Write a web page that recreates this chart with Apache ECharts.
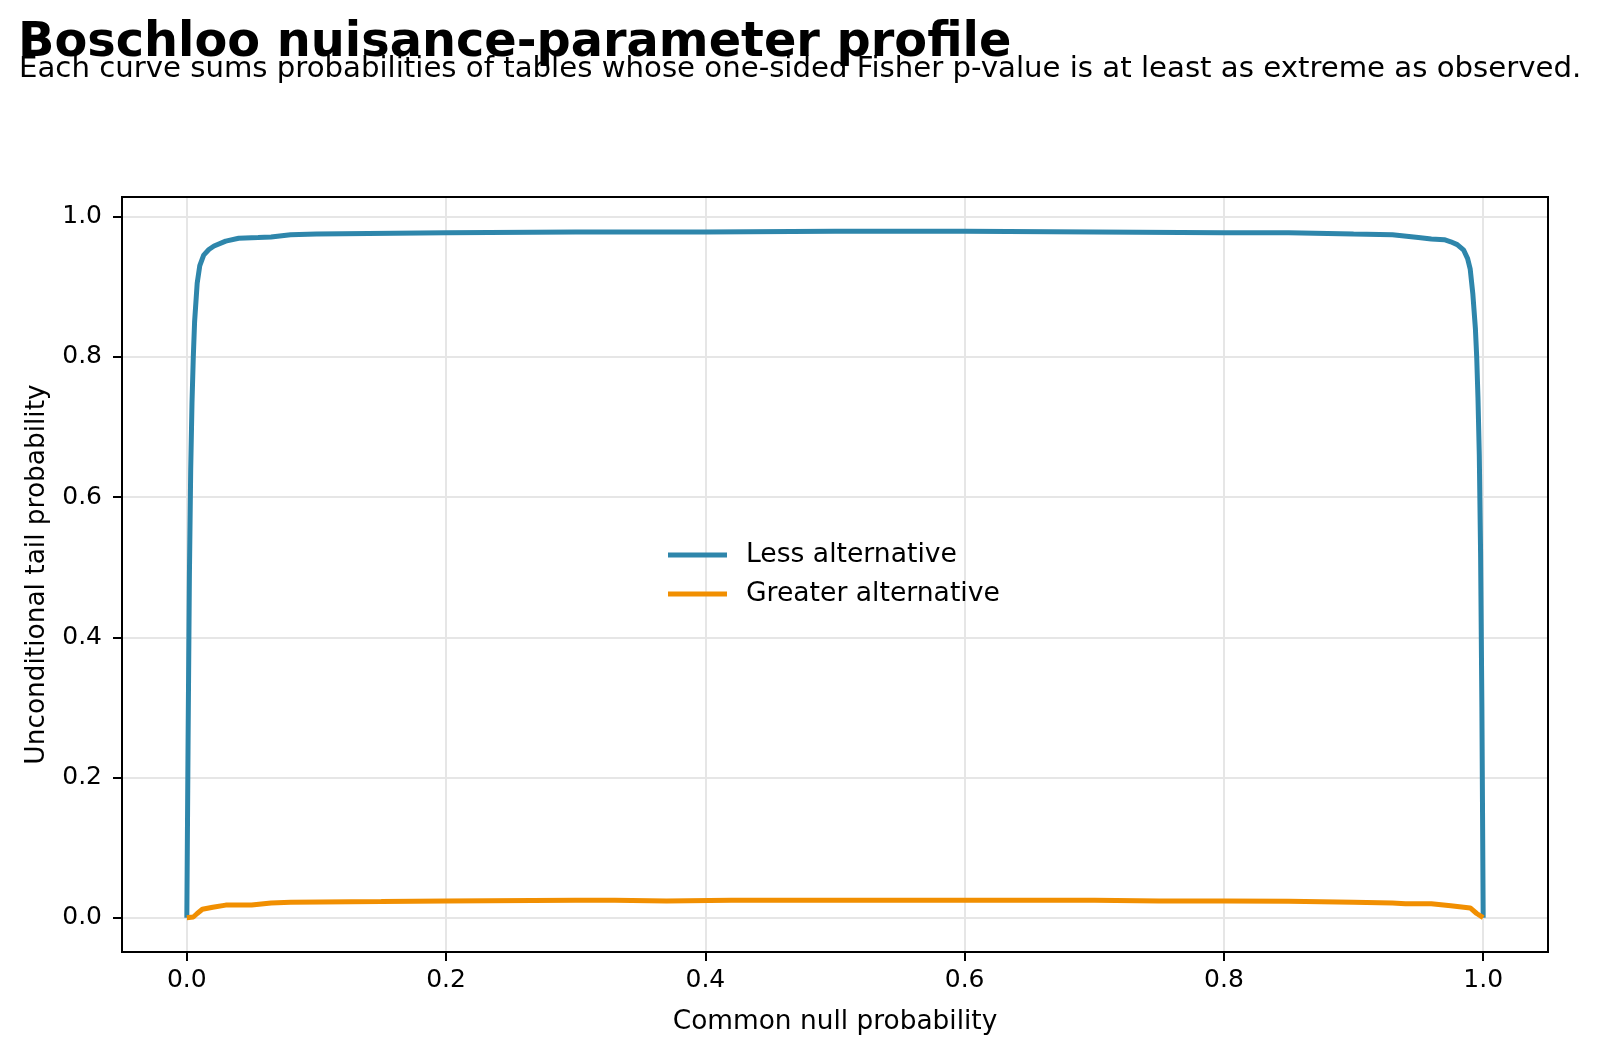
<!DOCTYPE html>
<html>
<head>
<meta charset="utf-8">
<script src="https://cdn.jsdelivr.net/npm/echarts@6/dist/echarts.min.js"></script>
<style>
html,body{margin:0;padding:0;background:#fff;}
#chart{width:1600px;height:1054px;}
</style>
</head>
<body>
<div id="chart"></div>
<script>
// ---- Data ----
const titleText = "Boschloo nuisance-parameter profile";
const subtitleText = "Each curve sums probabilities of tables whose one-sided Fisher p-value is at least as extreme as observed.";
const xAxisName = "Common null probability";
const yAxisName = "Unconditional tail probability";
const seriesNames = ["Less alternative", "Greater alternative"];
const xTicks = [0.0, 0.2, 0.4, 0.6, 0.8, 1.0];
const yTicks = [0.0, 0.2, 0.4, 0.6, 0.8, 1.0];

const lessP = [0, 0.001, 0.002, 0.003, 0.004, 0.005, 0.006, 0.008, 0.010, 0.013, 0.017, 0.021, 0.030, 0.040, 0.055, 0.065, 0.080, 0.100, 0.140, 0.200, 0.300, 0.400, 0.500, 0.600, 0.700, 0.800, 0.850, 0.900, 0.930, 0.950, 0.960, 0.970, 0.975, 0.980, 0.985, 0.988, 0.990, 0.992, 0.994, 0.995, 0.996, 0.997, 0.998, 0.999, 1.000];
const lessV = [0, 0.26, 0.49, 0.64, 0.735, 0.80, 0.85, 0.905, 0.930, 0.945, 0.953, 0.958, 0.965, 0.969, 0.970, 0.971, 0.974, 0.975, 0.976, 0.977, 0.978, 0.978, 0.979, 0.979, 0.978, 0.977, 0.977, 0.975, 0.974, 0.970, 0.968, 0.967, 0.964, 0.960, 0.952, 0.940, 0.925, 0.890, 0.840, 0.800, 0.740, 0.660, 0.520, 0.300, 0];

const greaterP = [0, 0.005, 0.008, 0.012, 0.020, 0.030, 0.050, 0.065, 0.080, 0.150, 0.200, 0.300, 0.330, 0.370, 0.420, 0.500, 0.600, 0.700, 0.750, 0.800, 0.850, 0.900, 0.930, 0.940, 0.960, 0.975, 0.985, 0.990, 0.995, 1.000];
const greaterV = [0, 0.001, 0.006, 0.012, 0.015, 0.018, 0.018, 0.021, 0.022, 0.023, 0.024, 0.025, 0.025, 0.024, 0.025, 0.025, 0.025, 0.025, 0.024, 0.024, 0.0235, 0.022, 0.021, 0.020, 0.020, 0.017, 0.015, 0.014, 0.006, 0];

const colors = ["#2E86AB", "#F18F01"];

// ---- Build ----
const zip = (a, b) => a.map((v, i) => [v, b[i]]);
const FONT = "DejaVu Sans";
const chart = echarts.init(document.getElementById('chart'), null, {renderer: 'canvas'});

const X_MIN = -0.05, X_MAX = 1.05, Y_MIN = -0.0489, Y_MAX = 1.0279;
const tickStyle = {show: true, length: 9, lineStyle: {color: '#000', width: 2}};

// main axes: their axis lines sit on the zero of a hidden helper axis whose zero is the grid edge
const xMain = {
  type: 'value', position: 'bottom', min: X_MIN, max: X_MAX,
  axisLine: {show: true, onZero: true, onZeroAxisIndex: 1, lineStyle: {color: '#000', width: 2}},
  axisTick: Object.assign({}, tickStyle, {customValues: xTicks}),
  splitLine: {show: true, lineStyle: {color: '#e6e6e6', width: 2}},
  axisLabel: {customValues: xTicks, formatter: v => v.toFixed(1), color: '#000', fontFamily: FONT, fontSize: 25, margin: 16},
  name: xAxisName, nameLocation: 'middle', nameGap: 57,
  nameTextStyle: {color: '#000', fontFamily: FONT, fontSize: 26.4}
};
const yMain = {
  type: 'value', position: 'left', min: Y_MIN, max: Y_MAX,
  axisLine: {show: true, onZero: true, onZeroAxisIndex: 1, lineStyle: {color: '#000', width: 2}},
  axisTick: Object.assign({}, tickStyle, {customValues: yTicks}),
  splitLine: {show: true, lineStyle: {color: '#e6e6e6', width: 2}},
  axisLabel: {customValues: yTicks, formatter: v => v.toFixed(1), color: '#000', fontFamily: FONT, fontSize: 25, margin: 20},
  name: yAxisName, nameLocation: 'middle', nameGap: 72,
  nameTextStyle: {color: '#000', fontFamily: FONT, fontSize: 26.4}
};
// hidden helper axes (zero at the lower / left grid edge)
const xHelper = {type: 'value', min: 0, max: 1, show: false, position: 'top'};
const yHelper = {type: 'value', min: 0, max: 1, show: false, position: 'right'};

chart.setOption({
  animation: false,
  backgroundColor: '#fff',
  title: [
    {text: titleText, left: 18, top: 20, textStyle: {fontFamily: FONT, fontSize: 47.8, fontWeight: 'bold', color: '#000'}, padding: 0},
    {text: subtitleText, left: 19, top: 55, textStyle: {fontFamily: FONT, fontSize: 29.2, fontWeight: 'normal', color: '#000'}, padding: 0}
  ],
  grid: {left: 122, right: 52, top: 197, bottom: 102, show: true, borderColor: '#000', borderWidth: 2, backgroundColor: 'transparent', z: 10},
  legend: {
    orient: 'vertical',
    left: 668, top: 540,
    padding: 0,
    itemGap: 9,
    icon: 'rect',
    itemWidth: 59, itemHeight: 5,
    textStyle: {fontFamily: FONT, fontSize: 26.6, color: '#000', lineHeight: 30, padding: [0, 0, 0, 14]},
    data: seriesNames
  },
  xAxis: [xMain, xHelper],
  yAxis: [yMain, yHelper],
  series: [
    {name: seriesNames[0], type: 'line', xAxisIndex: 0, yAxisIndex: 0, data: zip(lessP, lessV), showSymbol: false, symbol: 'none', color: colors[0], lineStyle: {width: 5, color: colors[0]}, itemStyle: {color: colors[0]}, z: 3},
    {name: seriesNames[1], type: 'line', xAxisIndex: 0, yAxisIndex: 0, data: zip(greaterP, greaterV), showSymbol: false, symbol: 'none', color: colors[1], lineStyle: {width: 5, color: colors[1]}, itemStyle: {color: colors[1]}, z: 4}
  ]
});
</script>
</body>
</html>
